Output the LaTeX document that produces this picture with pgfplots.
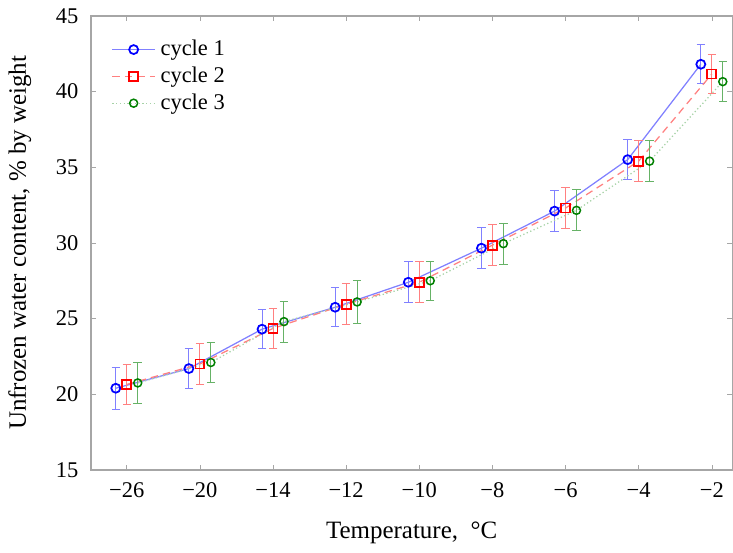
\documentclass[border=0pt]{standalone}
\usepackage{pgfplots}
\pgfplotsset{compat=1.18}
\usepackage{fontspec}
\setmainfont{Liberation Serif}

\begin{document}
\begin{tikzpicture}
\begin{axis}[
    scale only axis,
    width=257pt, height=182pt,
    xmin=-0.49, xmax=8.28,
    ymin=15, ymax=45,
    xtick={0,...,8},
    xticklabels={−26,−20,−14,−12,−10,−8,−6,−4,−2},
    ytick={15,20,...,45},
    tick align=inside,
    major tick length=2pt,
    axis line style={gray!70, line width=0.6pt},
    tick style={gray!70},
    tick label style={font=\small},
    xticklabel style={yshift=-1.5pt},
    yticklabel style={xshift=-1.5pt},
    /pgf/number format/assume math mode=true,
    xlabel={Temperature,\ \ °C},
    ylabel={Unfrozen water content, \% by weight},
    label style={font=\normalsize},
    xlabel style={yshift=-3pt},
    ylabel style={yshift=3pt},
    legend style={draw=none, fill=none, at={(0.02,0.97)}, anchor=north west, font=\small, row sep=-1pt},
    legend cell align=left,
    error bars/y dir=both,
    error bars/y explicit,
]
\addplot[blue!50, line width=0.5pt, mark=o, mark size=1.8pt,
    mark options={blue, solid, line width=0.7pt},
    error bars/error bar style={blue!50},
    error bars/error mark options={rotate=90, mark size=1.7pt, blue!50}]
  table[x=x, y=y, y error=e] {
x y e
-0.15 20.4 1.4
0.85 21.7 1.35
1.85 24.3 1.3
2.85 25.75 1.3
3.85 27.4 1.35
4.85 29.65 1.35
5.85 32.1 1.35
6.85 35.5 1.3
7.85 41.8 1.3
};
\addplot[red!50, densely dashed, line width=0.5pt, mark=square, mark size=1.8pt,
    mark options={red, solid, line width=0.7pt},
    error bars/error bar style={red!50, solid},
    error bars/error mark options={rotate=90, mark size=1.7pt, red!50}]
  table[x=x, y=y, y error=e] {
x y e
0 20.65 1.35
1 22.0 1.35
2 24.35 1.3
3 25.95 1.35
4 27.4 1.35
5 29.85 1.35
6 32.3 1.35
7 35.4 1.35
8 41.15 1.3
};
\addplot[green!50!black!35, densely dotted, line width=0.5pt, mark=o, mark size=1.6pt,
    mark options={green!50!black, solid, line width=0.6pt},
    error bars/error bar style={green!50!black!60, solid},
    error bars/error mark options={rotate=90, mark size=1.7pt, green!50!black!60}]
  table[x=x, y=y, y error=e] {
x y e
0.15 20.75 1.35
1.15 22.1 1.35
2.15 24.8 1.35
3.15 26.1 1.4
4.15 27.5 1.3
5.15 29.95 1.35
6.15 32.15 1.35
7.15 35.4 1.35
8.15 40.65 1.3
};
\legend{cycle 1, cycle 2, cycle 3}
\end{axis}
\end{tikzpicture}
\end{document}
